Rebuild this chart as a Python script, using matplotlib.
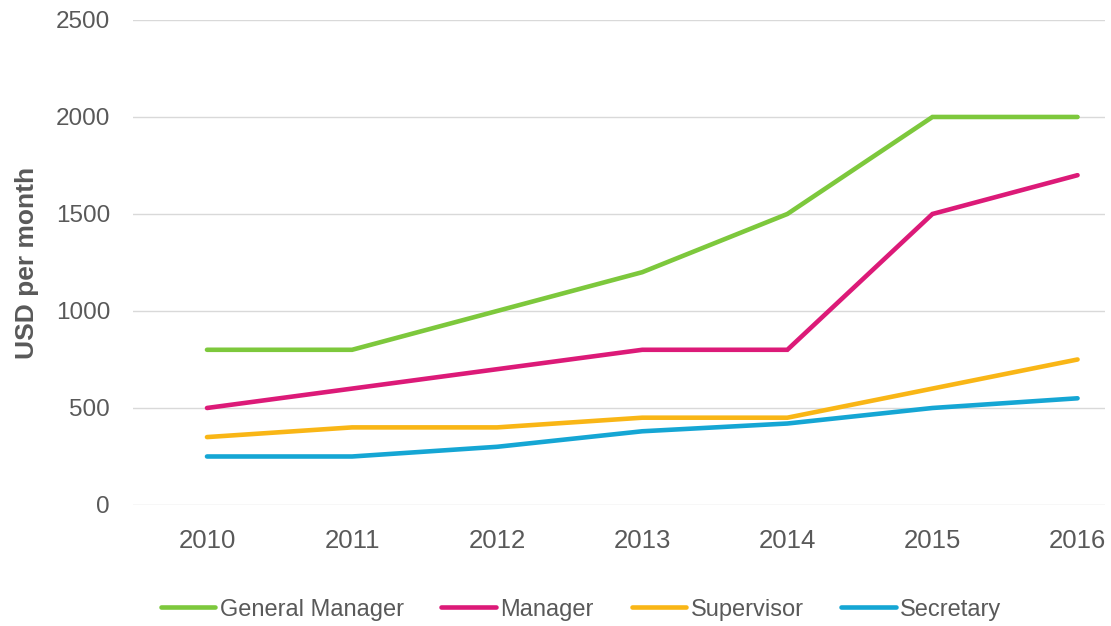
import matplotlib
matplotlib.use("Agg")
import matplotlib.pyplot as plt

# data
years = ["2010", "2011", "2012", "2013", "2014", "2015", "2016"]
general_manager = [800, 800, 1000, 1200, 1500, 2000, 2000]
manager = [500, 600, 700, 800, 800, 1500, 1700]
supervisor = [350, 400, 400, 450, 450, 600, 750]
secretary = [250, 250, 300, 380, 420, 500, 550]

names = ["General Manager", "Manager", "Supervisor", "Secretary"]
series = [general_manager, manager, supervisor, secretary]
colors = ["#7dc83c", "#dc1a78", "#f9b616", "#15a6d4"]

plt.rcParams['font.family'] = ['Liberation Sans', 'DejaVu Sans']
grey = "#595959"

fig = plt.figure(figsize=(11.11, 6.26), dpi=100)
ax = fig.add_axes([0.1197, 0.1933, 0.875, 0.7748])

x = range(len(years))
for name, vals, c in zip(names, series, colors):
    ax.plot(x, vals, color=c, lw=3.3, label=name,
            solid_capstyle='round', solid_joinstyle='miter')

ax.set_ylim(0, 2500)
ax.set_yticks([0, 500, 1000, 1500, 2000, 2500])
ax.set_xlim(-0.51, 6.19)
ax.set_xticks(list(x))
ax.set_xticklabels(years)
ax.grid(axis='y', color='#d9d9d9', lw=1)
ax.set_axisbelow(True)
for s in ax.spines.values():
    s.set_visible(False)
ax.tick_params(length=0, labelcolor=grey)
ax.tick_params(axis='y', pad=16.5, labelsize=17.5)
ax.tick_params(axis='x', pad=17, labelsize=18.5)
ax.set_ylabel("USD per month", fontsize=19, fontweight='bold', color=grey)
ax.yaxis.set_label_coords(-0.0966, 0.5)

leg = fig.legend(loc='center', bbox_to_anchor=(0.523, 0.026), ncol=4, frameon=False,
                 handlelength=2.3, handletextpad=0.2, columnspacing=1.6,
                 prop={'size': 17})
for t in leg.get_texts():
    t.set_color(grey)

fig.savefig("out.png", dpi=100)
